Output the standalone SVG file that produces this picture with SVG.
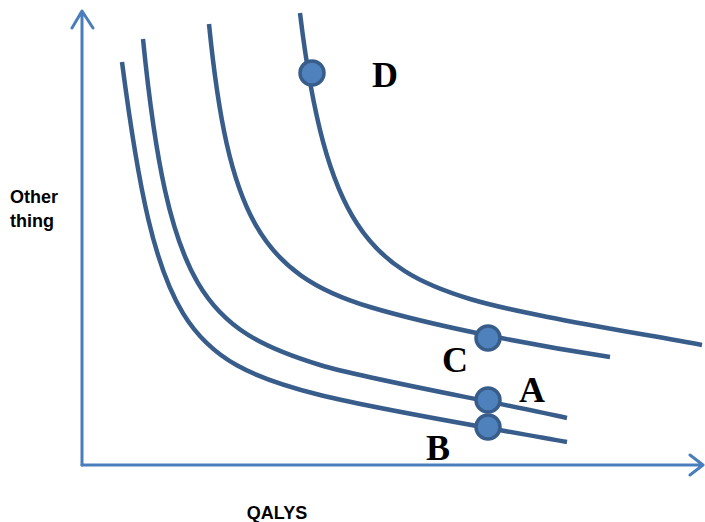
<svg xmlns="http://www.w3.org/2000/svg" width="705" height="522" viewBox="0 0 705 522">
<style>
.axis{fill:none;stroke:#4a7ebb;stroke-width:3;stroke-linecap:round;stroke-linejoin:round}
.curve{fill:none;stroke:#385d8a;stroke-width:4.5}
.pt{fill:#4f81bd;stroke:#385d8a;stroke-width:3.5}
.lbl{font-family:"Liberation Serif","Times New Roman",serif;font-weight:bold;font-size:36px;fill:#000}
.ax{font-family:"Liberation Sans",Arial,sans-serif;font-weight:bold;font-size:18px;fill:#000}
</style>
<rect width="705" height="522" fill="#fff"/>
<g id="axes">
<path class="axis" d="M82,465 V12 M72,28 L82,11 L93,28"/>
<path class="axis" d="M82,465 H702 M690,455 L703,465 L690,475"/>
</g>
<g id="connectors">
<path id="curveB" class="curve" d="M122,62 C155.8,322 185,361.25 320,395 C380,410 490,428 567,442"/>
<path id="curveA" class="curve" d="M143,39 C168,289 205,330 320,365 C370,380 490,400.6 567,418"/>
<path id="curveC" class="curve" d="M209,24 C228,214 260,274 370,307 C430,325 530,345 610,357"/>
<path id="curveD" class="curve" d="M300,13 C325.2,223 370,269 470,299 C520,314 620,330 702,345"/>
</g>
<g id="pointD"><circle class="pt" cx="312" cy="73" r="12"/><text class="lbl" x="372" y="87">D</text></g>
<g id="pointC"><circle class="pt" cx="488" cy="338" r="12"/><text class="lbl" x="442" y="372">C</text></g>
<g id="pointA"><circle class="pt" cx="488" cy="400" r="12"/><text class="lbl" x="519" y="402">A</text></g>
<g id="pointB"><circle class="pt" cx="488" cy="427" r="12"/><text class="lbl" x="426" y="460">B</text></g>
<g id="axisLabels">
<text class="ax" x="10" y="203">Other</text>
<text class="ax" x="10" y="227">thing</text>
<text class="ax" x="277" y="519" text-anchor="middle">QALYS</text>
</g>
</svg>
